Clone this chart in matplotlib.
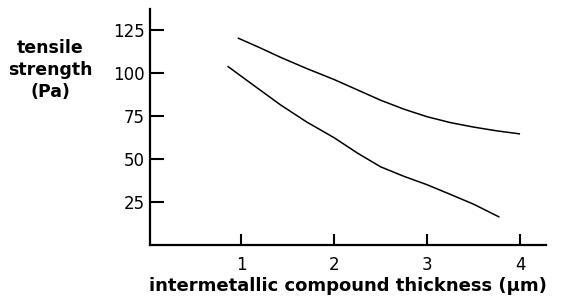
"""
Tensile strength vs intermetallic compound thickness.
"""

import matplotlib
matplotlib.use("Agg")
import matplotlib.pyplot as plt

# values
upper_x = [0.97, 1.2, 1.42, 1.7, 2.0, 2.25, 2.5, 2.75, 3.0, 3.25, 3.5, 3.75, 3.99]
upper_y = [120, 114.5, 109, 102.5, 96, 90, 84, 78.8, 74.4, 71, 68.4, 66.2, 64.5]
lower_x = [0.86, 1.1, 1.42, 1.7, 2.0, 2.25, 2.5, 2.75, 3.0, 3.25, 3.5, 3.77]
lower_y = [103.5, 94, 81.4, 71.5, 62.2, 53.3, 45.3, 39.8, 34.9, 29.3, 23.6, 16.3]

x_ticks = [1, 2, 3, 4]
y_ticks = [25, 50, 75, 100, 125]

fig = plt.figure(figsize=(5.62, 2.99), dpi=100)
ax = fig.add_axes([0.267, 0.181, 0.705, 0.789])

ax.plot(upper_x, upper_y, color='black', lw=1.1)
ax.plot(lower_x, lower_y, color='black', lw=1.1)

ax.set_xlim(0.02, 4.28)
ax.set_ylim(0, 137)
ax.set_xticks(x_ticks)
ax.set_yticks(y_ticks)
ax.tick_params(direction='in', width=1.5, length=8, labelsize=12, pad=8)
ax.tick_params(axis='y', length=10, pad=4)

for side in ['top', 'right']:
    ax.spines[side].set_visible(False)
for side in ['left', 'bottom']:
    ax.spines[side].set_linewidth(1.6)

ax.set_xlabel('intermetallic compound thickness (µm)', fontsize=13,
              fontweight='bold', labelpad=2)
fig.text(50 / 562, 1 - 70 / 299, 'tensile\nstrength\n(Pa)', fontsize=12.5,
         fontweight='bold', ha='center', va='center', linespacing=1.3)

fig.savefig('out.png', dpi=100)
